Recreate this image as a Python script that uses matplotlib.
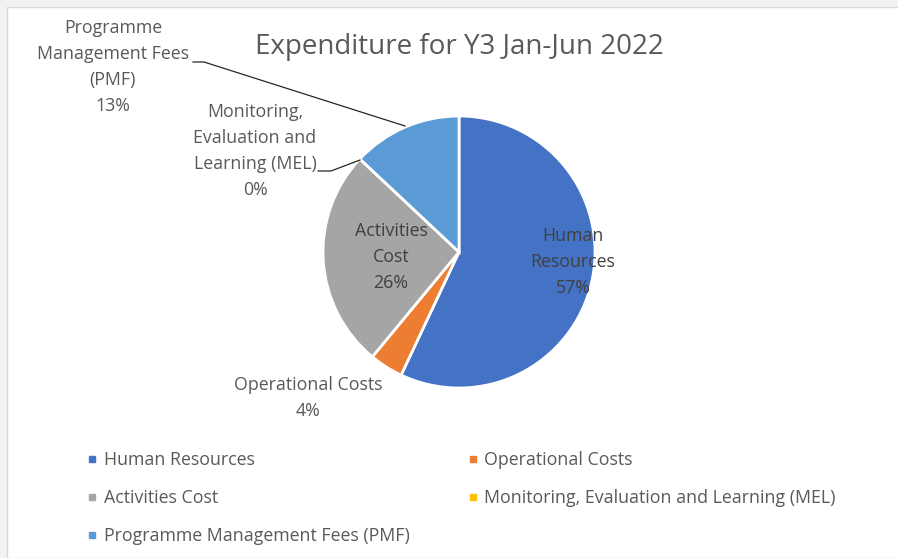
import matplotlib
matplotlib.use("Agg")
import matplotlib.pyplot as plt
import matplotlib.patches as mpatches
from matplotlib.lines import Line2D

categories = ["Human Resources", "Operational Costs", "Activities Cost",
              "Monitoring, Evaluation and Learning (MEL)",
              "Programme Management Fees (PMF)"]
wrapped = ["Human\nResources", "Operational Costs", "Activities\nCost",
           "Monitoring,\nEvaluation and\nLearning (MEL)",
           "Programme\nManagement Fees\n(PMF)"]
values = [57, 4, 26, 0, 13]
colors = ["#4472C4", "#ED7D31", "#A5A5A5", "#FFC000", "#5B9BD5"]

plt.rcParams["font.family"] = ["Open Sans", "DejaVu Sans"]
W, H = 898, 558
fig = plt.figure(figsize=(W / 100, H / 100), dpi=100)
fig.patch.set_facecolor("#F2F2F2")

# chart area (white, thin grey border on top/left)
fig.patches.append(mpatches.Rectangle((7 / W, 0), 1, 1 - 7 / H, transform=fig.transFigure,
                                      facecolor="white", edgecolor="#D9D9D9", linewidth=1,
                                      zorder=-10))

cx, cy, r = 459, 252, 136
ax = fig.add_axes(((cx - r) / W, (H - cy - r) / H, 2 * r / W, 2 * r / H))
ax.pie(values, colors=colors, startangle=90, counterclock=False, radius=1,
       wedgeprops=dict(edgecolor="white", linewidth=2))
ax.set_xlim(-1, 1)
ax.set_ylim(-1, 1)
ax.set_aspect("equal")
ax.axis("off")


def px(x, y):
    return (x - cx) / r, -(y - cy) / r


total = sum(values)
pcts = [f"{v / total * 100:.0f}%" for v in values]

FS = 12.8
txt = dict(ha="center", va="center", fontsize=FS, linespacing=1.56, clip_on=False)
# inside labels
ax.text(*px(573, 262), f"{wrapped[0]}\n{pcts[0]}", color="#404040", **txt)
ax.text(*px(391, 257), f"{wrapped[2]}\n{pcts[2]}", color="#404040", **txt)
# outside labels
ax.text(*px(308, 398), f"{wrapped[1]}\n{pcts[1]}", color="#595959", **txt)
ax.text(*px(255, 151), f"{wrapped[3]}\n{pcts[3]}", color="#595959", **txt)
ax.text(*px(113, 67), f"{wrapped[4]}\n{pcts[4]}", color="#595959", **txt)

# leader lines
for pts in ([(193, 62), (204, 62), (405, 126)], [(318, 171), (331, 171), (360, 160)]):
    xs, ys = zip(*[px(*p) for p in pts])
    ax.plot(xs, ys, color="#262626", linewidth=0.9, clip_on=False)

fig.text(459 / W, 1 - 47 / H, "Expenditure for Y3 Jan-Jun 2022", ha="center", va="center",
         fontsize=20, color="#595959")

handles = [Line2D([], [], marker="s", linestyle="none", markersize=5,
                  color=c, label=l) for c, l in zip(colors, categories)]
order = [0, 2, 4, 1, 3]
fig.legend(handles=[handles[i] for i in order], loc="upper left",
           bbox_to_anchor=(71 / W, 1 - 435 / H), ncol=2, frameon=False,
           fontsize=12.8, labelcolor="#595959", handlelength=0.6, handletextpad=0.35,
           columnspacing=3.25, labelspacing=1.13)

fig.savefig("out.png", dpi=100)
